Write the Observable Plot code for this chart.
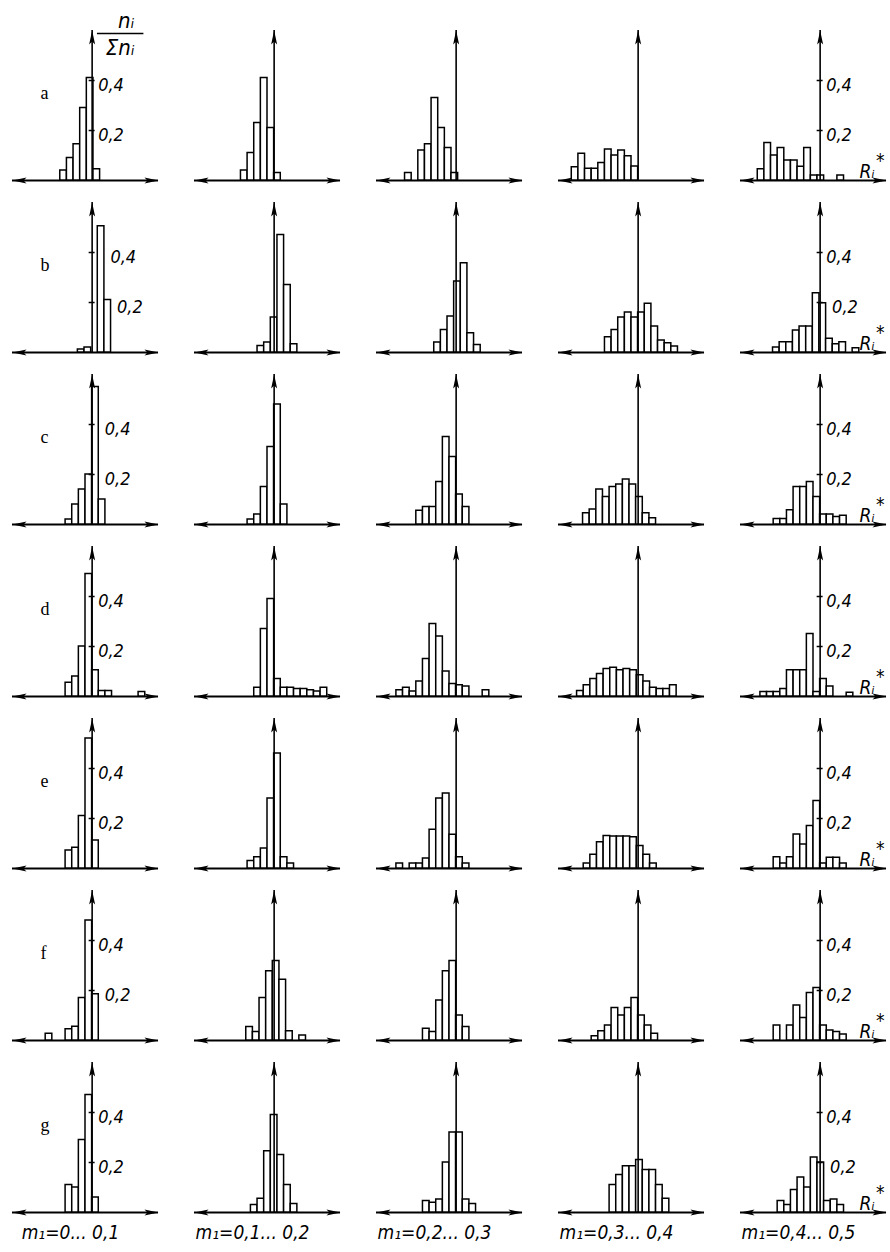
<!DOCTYPE html>
<html>
<head>
<meta charset="utf-8">
<script src="https://cdn.jsdelivr.net/npm/d3@7"></script>
<script src="https://cdn.jsdelivr.net/npm/@observablehq/plot@0.6"></script>
<style>
  body { margin: 0; background: #fff; }
  #chart svg { display: block; background: #fff; }
</style>
</head>
<body>
<div id="chart"></div>
<script>
// ---------- data ----------
const rowLabels = ["a", "b", "c", "d", "e", "f", "g"];
const groupLabels = ["m₁=0... 0,1", "m₁=0,1... 0,2", "m₁=0,2... 0,3", "m₁=0,3... 0,4", "m₁=0,4... 0,5"];
const tickValues = [0.2, 0.4];
const tickLabels = ["0,2", "0,4"];

// each panel: [first class (in class widths, relative to the ordinate axis), relative frequencies n_i/Σn_i]
const histA = [
  [-4.8, [0.04, 0.09, 0.145, 0.29, 0.41, 0.045]],
  [-5,   [0.04, 0.11, 0.23, 0.41, 0.21, 0.03]],
  [-7.7, [0.03, 0, 0.12, 0.145, 0.33, 0.21, 0.13, 0.03]],
  [-10,  [0.053, 0.107, 0.047, 0.047, 0.07, 0.124, 0.1, 0.12, 0.097, 0.056]],
  [-9.4, [0.045, 0.15, 0.1, 0.13, 0.08, 0.08, 0.055, 0.13, 0.02, 0.02, 0, 0, 0.02]]
];
const histB = [
  [-2.15, [0.012, 0.02, 0, 0.505, 0.21]],
  [-2.5,  [0.026, 0.04, 0.14, 0.47, 0.27, 0.033]],
  [-3.3,  [0.04, 0.09, 0.144, 0.284, 0.357, 0.077, 0.03]],
  [-5,    [0.061, 0.09, 0.14, 0.16, 0.14, 0.16, 0.195, 0.104, 0.048, 0.037, 0.024]],
  [-7.1,  [0.02, 0.041, 0.041, 0.088, 0.104, 0.104, 0.237, 0.197, 0.055, 0.033, 0.041, 0, 0.017]]
];
const histC = [
  [-4,   [0.02, 0.08, 0.14, 0.2, 0.55, 0.1]],
  [-4,   [0.02, 0.04, 0.15, 0.31, 0.48, 0.08]],
  [-6,   [0.055, 0.07, 0.07, 0.17, 0.35, 0.27, 0.12, 0.07]],
  [-8.3, [0.045, 0.06, 0.14, 0.11, 0.15, 0.16, 0.18, 0.16, 0.11, 0.045, 0.025]],
  [-7,   [0.022, 0.022, 0.057, 0.15, 0.15, 0.17, 0.11, 0.04, 0.04, 0.03, 0.035]]
];
const histD = [
  [-4,   [0.055, 0.08, 0.2, 0.49, 0.105, 0.022, 0.022, 0, 0, 0, 0, 0.018]],
  [-3,   [0.035, 0.27, 0.39, 0.07, 0.035, 0.035, 0.03, 0.03, 0.025, 0.02, 0.035]],
  [-9,   [0.025, 0.035, 0.02, 0.06, 0.15, 0.29, 0.24, 0.1, 0.05, 0.045, 0.04, 0, 0, 0.025]],
  [-9.2, [0.022, 0.045, 0.07, 0.09, 0.11, 0.115, 0.105, 0.11, 0.105, 0.085, 0.06, 0.035, 0.03, 0.03, 0.045]],
  [-9,   [0.018, 0.018, 0.018, 0.03, 0.105, 0.105, 0.105, 0.25, 0.018, 0.07, 0.04, 0, 0, 0.015]]
];
const histE = [
  [-4,   [0.072, 0.083, 0.21, 0.52, 0.112]],
  [-4,   [0.03, 0.045, 0.08, 0.28, 0.46, 0.045, 0.02]],
  [-9,   [0.02, 0, 0.02, 0.02, 0.04, 0.155, 0.28, 0.3, 0.135, 0.045, 0.02]],
  [-8.2, [0.02, 0.055, 0.105, 0.13, 0.128, 0.128, 0.128, 0.125, 0.09, 0.055, 0.02]],
  [-7,   [0.045, 0.02, 0.045, 0.136, 0.096, 0.17, 0.27, 0.02, 0.043, 0.043, 0.02]]
];
const histF = [
  [-7,   [0.027, 0, 0, 0.045, 0.055, 0.17, 0.48, 0.185]],
  [-4.2, [0.054, 0.034, 0.17, 0.277, 0.318, 0.243, 0.037, 0, 0.02]],
  [-5,   [0.047, 0.034, 0.16, 0.277, 0.318, 0.1, 0.054]],
  [-7,   [0.017, 0.037, 0.06, 0.13, 0.1, 0.13, 0.17, 0.1, 0.06, 0.027]],
  [-7,   [0.06, 0, 0.06, 0.14, 0.09, 0.19, 0.21, 0.06, 0.04, 0.034, 0.024]]
];
const histG = [
  [-4,   [0.11, 0.1, 0.29, 0.47, 0.06]],
  [-3.5, [0.03, 0.055, 0.245, 0.39, 0.23, 0.11, 0.034]],
  [-5,   [0.046, 0.039, 0.052, 0.2, 0.32, 0.32, 0.052, 0.034]],
  [-4.3, [0.11, 0.15, 0.185, 0.185, 0.21, 0.17, 0.17, 0.11, 0.055]],
  [-6.4, [0.046, 0.03, 0.09, 0.14, 0.1, 0.22, 0.2, 0.046, 0.052, 0.03]]
];

// ---------- derived tables ----------
const histRows = [histA, histB, histC, histD, histE, histF, histG];
const X_LEFT = -12, X_RIGHT = 10;     // abscissa extent (class widths)
const Y_TOP = 0.62, AXIS_TOP = 0.6;   // ordinate extent

const panels = [];
const bars = [];
histRows.forEach((hrow, r) => hrow.forEach(([from, freqs], c) => {
  panels.push({row: rowLabels[r], col: groupLabels[c]});
  freqs.forEach((f, i) => {
    if (f > 0) bars.push({row: rowLabels[r], col: groupLabels[c], x1: from + i, x2: from + i + 1, f});
  });
}));

const labelledCols = [groupLabels[0], groupLabels[groupLabels.length - 1]];
const tickMarks = [];
rowLabels.forEach(row => labelledCols.forEach(col => tickValues.forEach((v, k) => {
  const blocking = bars.filter(b => b.row === row && b.col === col && b.x2 > 0.3 && b.f >= v - 0.07);
  const lx = Math.max(0, ...blocking.map(b => b.x2));
  tickMarks.push({row, col, v, lx, label: tickLabels[k]});
})));

// arrow head symbol: tip at the origin, pointing up
const arrowHead = {
  draw(ctx) {
    ctx.moveTo(0, 0);
    ctx.lineTo(3, 14);
    ctx.lineTo(0, 11);
    ctx.lineTo(-3, 14);
    ctx.closePath();
  }
};

const italicFont = "'DejaVu Sans Condensed', 'DejaVu Sans', sans-serif";
const firstCol = groupLabels[0];
const lastCol = groupLabels[groupLabels.length - 1];

const chart = Plot.plot({
  width: 890,
  height: 1252,
  marginLeft: 10,
  marginRight: 2,
  marginTop: 25,
  marginBottom: 40,
  style: {background: "#fff", color: "#000"},
  fx: {domain: groupLabels, paddingInner: 0.196, paddingOuter: 0, axis: null},
  fy: {domain: rowLabels, paddingInner: 0.1, paddingOuter: 0, axis: null},
  x: {domain: [X_LEFT, X_RIGHT], axis: null},
  y: {domain: [0, Y_TOP], axis: null},
  marks: [
    // abscissa with arrows both ways
    Plot.ruleY(panels, {fx: "col", fy: "row", y: 0, x1: X_LEFT, x2: X_RIGHT, stroke: "black", strokeWidth: 1.8}),
    Plot.dot(panels, {fx: "col", fy: "row", x: X_RIGHT, y: 0, symbol: arrowHead, rotate: 90, fill: "black"}),
    Plot.dot(panels, {fx: "col", fy: "row", x: X_LEFT, y: 0, symbol: arrowHead, rotate: -90, fill: "black"}),
    // histogram bars
    Plot.rect(bars, {fx: "col", fy: "row", x1: "x1", x2: "x2", y1: 0, y2: "f", fill: "white", stroke: "black", strokeWidth: 1.5}),
    // ordinate with arrow
    Plot.ruleX(panels, {fx: "col", fy: "row", x: 0, y1: 0, y2: AXIS_TOP, stroke: "black", strokeWidth: 1.6}),
    Plot.dot(panels, {fx: "col", fy: "row", x: 0, y: AXIS_TOP, symbol: arrowHead, fill: "black"}),
    // ordinate ticks and labels (first and last columns)
    Plot.ruleY(tickMarks, {fx: "col", fy: "row", y: "v", x1: -0.45, x2: 0.45, stroke: "black", strokeWidth: 1.5}),
    Plot.text(tickMarks, {fx: "col", fy: "row", x: "lx", y: "v", text: "label", textAnchor: "start",
      dx: 6, dy: 5, fontSize: 18, fontStyle: "italic", fontFamily: italicFont}),
    // ordinate title n_i / Σn_i
    Plot.text([0], {fx: () => firstCol, fy: () => rowLabels[0], x: 0, y: AXIS_TOP, text: () => "nᵢ",
      lineAnchor: "bottom", dx: 34, dy: -3, fontSize: 22, fontStyle: "italic", fontFamily: italicFont}),
    Plot.ruleY([AXIS_TOP], {fx: () => firstCol, fy: () => rowLabels[0], x1: 0.8, x2: 7.8, dy: 3, stroke: "black", strokeWidth: 1.7}),
    Plot.text([0], {fx: () => firstCol, fy: () => rowLabels[0], x: 0, y: AXIS_TOP, text: () => "Σnᵢ",
      lineAnchor: "top", dx: 28, dy: 9, fontSize: 22, fontStyle: "italic", fontFamily: italicFont}),
    // abscissa title R_i* (last column)
    Plot.text(rowLabels, {fx: () => lastCol, fy: d => d, text: () => "Rᵢ", frameAnchor: "bottom-right",
      textAnchor: "end", lineAnchor: "bottom", dx: -12, dy: -3, fontSize: 19, fontStyle: "italic", fontFamily: italicFont}),
    Plot.text(rowLabels, {fx: () => lastCol, fy: d => d, text: () => "*", frameAnchor: "bottom-right",
      textAnchor: "end", lineAnchor: "bottom", dx: -2, dy: -14, fontSize: 19, fontFamily: italicFont}),
    // row letters
    Plot.text(rowLabels, {fx: () => firstCol, fy: d => d, text: d => d, frameAnchor: "left",
      dx: 28, dy: -10, fontSize: 18, fontFamily: "'Liberation Serif', serif"}),
    // column captions
    Plot.text(groupLabels, {fx: d => d, fy: () => rowLabels[rowLabels.length - 1], text: d => d,
      frameAnchor: "bottom", lineAnchor: "top", dx: -15, dy: 13, fontSize: 19, fontStyle: "italic", fontFamily: italicFont})
  ]
});
document.getElementById("chart").append(chart);
</script>
</body>
</html>
